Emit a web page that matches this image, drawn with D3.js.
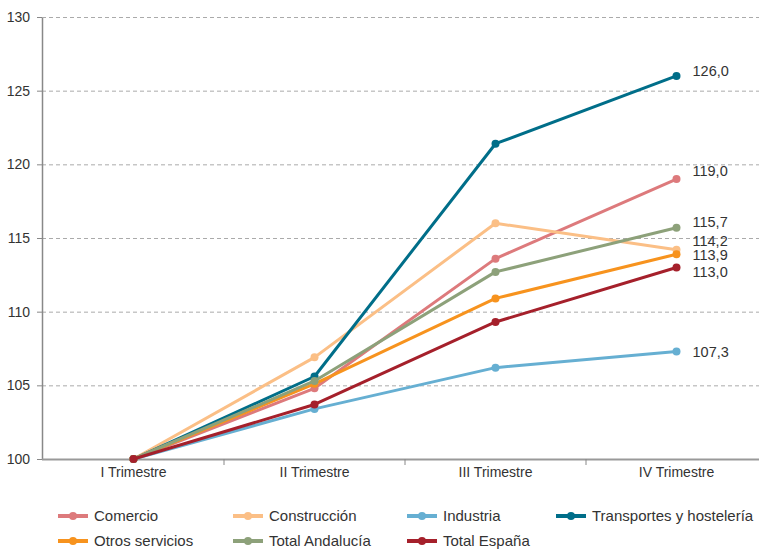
<!DOCTYPE html>
<html><head><meta charset="utf-8">
<script src="https://cdn.jsdelivr.net/npm/d3@7"></script>
<style>
body{margin:0;background:#fff;}
text{font-family:"Liberation Sans",Arial,sans-serif;fill:#333;}
</style></head>
<body><svg id="c" width="759" height="549"></svg>
<script>
const categories = ["I Trimestre","II Trimestre","III Trimestre","IV Trimestre"];
const seriesNames = ["Comercio","Construcción","Industria","Transportes y hostelería","Otros servicios","Total Andalucía","Total España"];
const comercio = [100, 104.8, 113.6, 119.0];
const construccion = [100, 106.9, 116.0, 114.2];
const industria = [100, 103.4, 106.2, 107.3];
const transportes = [100, 105.6, 121.4, 126.0];
const otros = [100, 105.1, 110.9, 113.9];
const totalAndalucia = [100, 105.3, 112.7, 115.7];
const totalEspana = [100, 103.7, 109.3, 113.0];
const yTicks = [100,105,110,115,120,125,130];
const endLabels = ["126,0","119,0","115,7","114,2","113,9","113,0","107,3"];

(function(){
const colors = ["#dd7a7c","#fbbf86","#66afd2","#006e89","#f7931e","#8da17a","#a5202b"];
const values = [comercio,construccion,industria,transportes,otros,totalAndalucia,totalEspana];
const series = seriesNames.map((n,i)=>({name:n,values:values[i],color:colors[i]}));

const svg = d3.select("#c");
const mLeft=42, mTop=17, mBottom=459, mRight=767;
const x = d3.scaleBand().domain(categories).range([mLeft+1,mRight]);
const y = d3.scaleLinear().domain([100,130]).range([mBottom,mTop]);

svg.append("g").selectAll("line").data(yTicks.filter(t=>t>100)).join("line")
  .attr("x1",mLeft).attr("x2",759).attr("y1",d=>y(d)+0.5).attr("y2",d=>y(d)+0.5)
  .attr("stroke","#aaa").attr("stroke-dasharray","4,3").attr("stroke-width",1);

const ya = svg.append("g").attr("transform",`translate(${mLeft},0)`)
  .call(d3.axisLeft(y).tickValues(yTicks).tickSize(5).tickPadding(7).tickFormat(d3.format("d")));
ya.select(".domain").attr("stroke","#888").attr("stroke-width",1.5).attr("d",`M0.5,${mTop+1}V${mBottom}`);
ya.selectAll(".tick line").attr("stroke","#888");
ya.selectAll("text").style("font-size","14px").style("font-family","Liberation Sans, Arial, sans-serif").attr("fill","#333");

svg.append("line").attr("x1",mLeft).attr("x2",mRight).attr("y1",mBottom+0.5).attr("y2",mBottom+0.5).attr("stroke","#999").attr("stroke-width",2);
const xa = svg.append("g").attr("transform",`translate(0,${mBottom})`)
  .call(d3.axisBottom(x).tickSize(0).tickPadding(8));
xa.select(".domain").remove();
xa.selectAll("text").style("font-size","14px").style("font-family","Liberation Sans, Arial, sans-serif").attr("fill","#333");
svg.append("g").selectAll("line").data(categories.slice(1)).join("line")
  .attr("x1",d=>x(d)).attr("x2",d=>x(d)).attr("y1",mBottom).attr("y2",mBottom+6)
  .attr("stroke","#888").attr("stroke-width",1);

const line = d3.line().x((d,i)=>x(categories[i])+x.bandwidth()/2).y(d=>y(d));
const g = svg.append("g");
series.forEach(s=>{
  g.append("path").attr("d",line(s.values)).attr("fill","none").attr("stroke",s.color).attr("stroke-width",3).attr("stroke-linejoin","round");
  g.selectAll(null).data(s.values).join("circle")
    .attr("cx",(d,i)=>x(categories[i])+x.bandwidth()/2).attr("cy",d=>y(d)).attr("r",4).attr("fill",s.color);
});

const order = [3,0,5,1,4,6,2];
const nudge = [-5,-8,-6,-9,1,4,0];
order.forEach((si,k)=>{
  const s = series[si];
  svg.append("text").attr("x",x(categories[3])+x.bandwidth()/2+16)
    .attr("y",y(s.values[3])+nudge[k]).attr("dy","0.35em")
    .style("font-size","14.5px").text(endLabels[k]);
});

const colX=[58,233,407,556];
const leg = svg.append("g");
series.forEach((s,i)=>{
  const cx = colX[i%4], cy = i<4?516:541;
  const it = leg.append("g").attr("transform",`translate(${cx},${cy})`);
  it.append("line").attr("x1",0).attr("x2",30).attr("stroke",s.color).attr("stroke-width",4);
  it.append("circle").attr("cx",15).attr("r",4).attr("fill",s.color);
  it.append("text").attr("x",36).attr("dy","0.35em").style("font-size","15px").text(s.name);
});
})();
</script></body></html>
